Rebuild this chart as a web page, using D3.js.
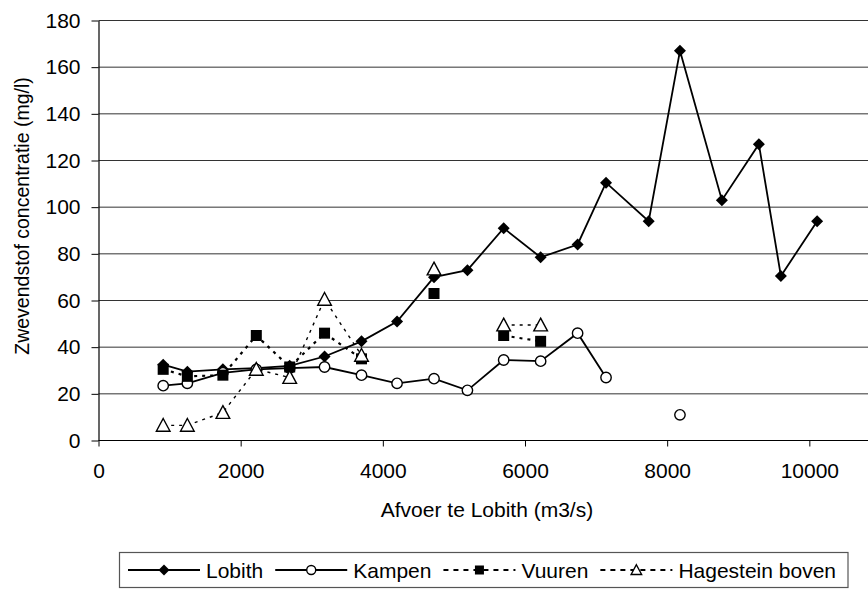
<!DOCTYPE html>
<html>
<head>
<meta charset="utf-8">
<script src="https://cdn.jsdelivr.net/npm/d3@7"></script>
<style>
  body { margin: 0; background: #fff; }
  svg { display: block; font-family: "Liberation Sans", Arial, sans-serif; }
</style>
</head>
<body>
<div id="chart"></div>
<script>
// discharge classes at Lobith (m3/s)
const afvoer = [910, 1250, 1750, 2220, 2690, 3180, 3700, 4200, 4720, 5190,
                5700, 6220, 6740, 7140, 7740, 8180, 8770, 9290, 9600, 10110];

// suspended sediment concentration (mg/l), null = no measurement
const lobith = [32.5, 29.5, 30.5, 31, 32, 36, 42.5, 51, 70, 73,
                91, 78.5, 84, 110.5, 94, 167, 103, 127, 70.5, 94];
const kampen = [23.5, 24.5, 29, 30.5, 31, 31.5, 28, 24.5, 26.5, 21.5,
                34.5, 34, 46, 27, null, 11, null, null, null, null];
const vuuren = [30.5, 27.5, 28, 45, 31.5, 46, 35, null, 63, null,
                45, 42.5, null, null, null, null, null, null, null, null];
const hagestein = [6.5, 6.5, 12, 30.5, 27, 60.5, 36.5, null, 73.5, null,
                   49.5, 49.5, null, null, null, null, null, null, null, null];

const seriesNames = ["Lobith", "Kampen", "Vuuren", "Hagestein boven"];
const xTicks = [0, 2000, 4000, 6000, 8000, 10000];
const yTicks = [0, 20, 40, 60, 80, 100, 120, 140, 160, 180];

const width = 868, height = 590;

const svg = d3.select("#chart")
  .append("svg")
  .attr("width", width)
  .attr("height", height);

// plot area runs past the right edge of the picture
const x = d3.scaleLinear().domain([0, 12000]).range([98.5, 951.5]);
const y = d3.scaleLinear().domain([0, 180]).range([440.5, 20.5]);

// horizontal gridlines
svg.append("g")
  .selectAll("line")
  .data(yTicks.filter(d => d > 0))
  .join("line")
    .attr("x1", x(0))
    .attr("x2", width)
    .attr("y1", d => y(d))
    .attr("y2", d => y(d))
    .attr("stroke", "#333")
    .attr("stroke-width", 1);

// axes
const yAxis = svg.append("g")
  .attr("transform", `translate(${x(0)},0)`)
  .call(d3.axisLeft(y).tickValues(yTicks).tickFormat(d3.format("d"))
    .tickSize(7).tickPadding(11).tickSizeOuter(0));

const xAxis = svg.append("g")
  .attr("transform", `translate(0,${y(0)})`)
  .call(d3.axisBottom(x).tickValues(xTicks).tickFormat(d3.format("d"))
    .tickSize(6).tickPadding(17).tickSizeOuter(0));

[xAxis, yAxis].forEach(a => {
  a.select(".domain").attr("stroke", "#000").attr("stroke-width", 1.2);
  a.selectAll(".tick line").attr("stroke", "#000");
  a.selectAll("text")
    .attr("fill", "#000")
    .style("font-size", "21px")
    .style("font-family", "'Liberation Sans', Arial, sans-serif");
});
xAxis.select(".domain").attr("d", `M${x(0)},0H${width}`);

// axis titles
svg.append("text")
  .attr("x", 487)
  .attr("y", 517)
  .attr("text-anchor", "middle")
  .style("font-size", "21px")
  .text("Afvoer te Lobith (m3/s)");

svg.append("text")
  .attr("transform", "translate(29,216) rotate(-90)")
  .attr("text-anchor", "middle")
  .style("font-size", "19.5px")
  .text("Zwevendstof concentratie (mg/l)");

// marker shapes
function marker(sel, kind, s) {
  if (kind === "diamond") {
    sel.append("path").attr("d", `M0,${-s}L${s},0L0,${s}L${-s},0Z`)
      .attr("fill", "#000");
  } else if (kind === "circle") {
    sel.append("circle").attr("r", s)
      .attr("fill", "#fff").attr("stroke", "#000").attr("stroke-width", 1.4);
  } else if (kind === "square") {
    sel.append("rect").attr("x", -s).attr("y", -s)
      .attr("width", 2 * s).attr("height", 2 * s)
      .attr("fill", "#000");
  } else {
    sel.append("path")
      .attr("d", `M0,${-s * 1.05}L${s * 1.05},${s * 0.9}L${-s * 1.05},${s * 0.9}Z`)
      .attr("fill", "#fff").attr("stroke", "#000").attr("stroke-width", 1.4);
  }
}

const series = [
  { name: seriesNames[0], values: lobith, kind: "diamond", dash: null, sw: 1.8, size: 6, lsize: 5.5 },
  { name: seriesNames[1], values: kampen, kind: "circle", dash: null, sw: 1.8, size: 5.2, lsize: 4.5 },
  { name: seriesNames[2], values: vuuren, kind: "square", dash: "3,5", sw: 2.2, size: 5.5, lsize: 4.5 },
  { name: seriesNames[3], values: hagestein, kind: "triangle", dash: "3,5", sw: 1.4, size: 6.5, lsize: 5 }
];

const line = d3.line()
  .defined(d => d[1] !== null)
  .x(d => x(d[0]))
  .y(d => y(d[1]));

series.forEach(s => {
  const pts = afvoer.map((a, i) => [a, s.values[i]]);
  const g = svg.append("g");
  g.append("path")
    .datum(pts)
    .attr("d", line)
    .attr("fill", "none")
    .attr("stroke", "#000")
    .attr("stroke-width", s.sw)
    .attr("stroke-dasharray", s.dash);
  g.selectAll("g.pt")
    .data(pts.filter(d => d[1] !== null))
    .join("g")
      .attr("class", "pt")
      .attr("transform", d => `translate(${x(d[0])},${y(d[1])})`)
      .each(function() { marker(d3.select(this), s.kind, s.size); });
});

// legend
const legend = svg.append("g");
const box = legend.append("rect")
  .attr("x", 119.5)
  .attr("y", 552.5)
  .attr("height", 35)
  .attr("fill", "#fff")
  .attr("stroke", "#555")
  .attr("stroke-width", 1.2);

let lx = 128;
const ly = 570;
series.forEach(s => {
  legend.append("line")
    .attr("x1", lx).attr("x2", lx + 72)
    .attr("y1", ly).attr("y2", ly)
    .attr("stroke", "#000")
    .attr("stroke-width", s.dash ? 2 : 1.8)
    .attr("stroke-dasharray", s.dash ? "5,5" : null);
  const m = legend.append("g").attr("transform", `translate(${lx + 36},${ly})`);
  marker(m, s.kind, s.lsize);
  const t = legend.append("text")
    .attr("x", lx + 78)
    .attr("y", ly + 8)
    .style("font-size", "21px")
    .text(s.name);
  lx += 78 + t.node().getComputedTextLength() + 12;
});
box.attr("width", lx - 119.5);
</script>
</body>
</html>
